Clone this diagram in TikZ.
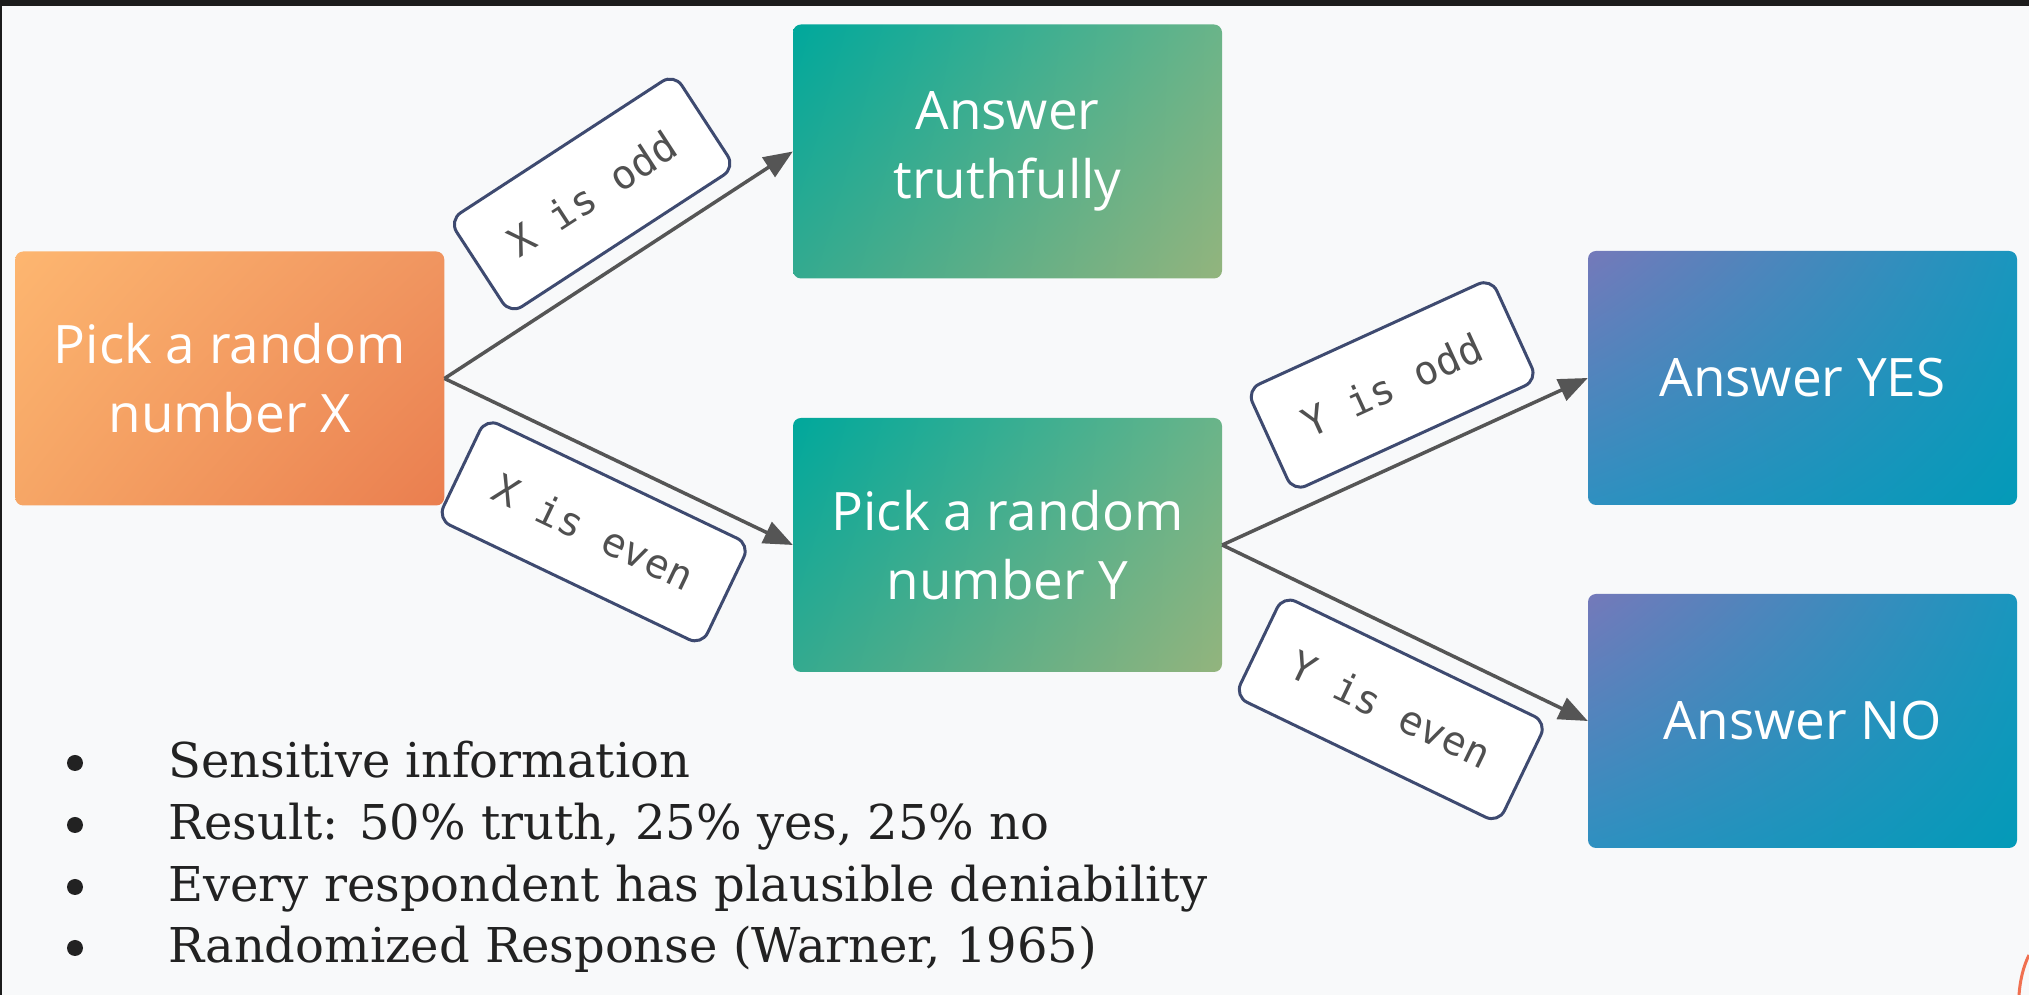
\documentclass[tikz,border=0pt]{standalone}
\usepackage{fontspec}
\setmainfont{DejaVu Serif}
\newfontfamily\boxfont{Open Sans}
\newfontfamily\lblfont{DejaVu Sans Mono}
\usetikzlibrary{arrows.meta,calc,shadings}

\definecolor{bg}{HTML}{F8F9FA}
\definecolor{framec}{HTML}{1C1C1C}
\definecolor{oUL}{HTML}{FDB670}
\definecolor{oUR}{HTML}{F09560}
\definecolor{oLL}{HTML}{F6A666}
\definecolor{oLR}{HTML}{EA7E4F}
\definecolor{gUL}{HTML}{00A89C}
\definecolor{gUR}{HTML}{6AB489}
\definecolor{gLL}{HTML}{34AA8F}
\definecolor{gLR}{HTML}{93B47D}
\definecolor{bUL}{HTML}{7479BA}
\definecolor{bUR}{HTML}{1A96BE}
\definecolor{bLL}{HTML}{2E90C0}
\definecolor{bLR}{HTML}{039AB8}
\definecolor{arrowc}{HTML}{555555}
\definecolor{lblborder}{HTML}{3E4A70}
\definecolor{lbltext}{HTML}{505050}
\definecolor{bullettext}{HTML}{222222}
\definecolor{cornerc}{HTML}{F07050}

\begin{document}
\begin{tikzpicture}[x=1pt,y=1pt,
  stepbox/.style={rounded corners=8pt, minimum width=429pt, minimum height=254pt,
    inner sep=0pt, align=center, text=white,
    font=\boxfont\fontsize{53}{69}\selectfont},
  orangebox/.style={stepbox, shade, shading=bilinear interpolation,
    upper left=oUL, upper right=oUR, lower left=oLL, lower right=oLR},
  greenbox/.style={stepbox, shade, shading=bilinear interpolation,
    upper left=gUL, upper right=gUR, lower left=gLL, lower right=gLR},
  bluebox/.style={stepbox, shade, shading=bilinear interpolation,
    upper left=bUL, upper right=bUR, lower left=bLL, lower right=bLR},
  lbl/.style={draw=lblborder, line width=3pt, fill=white, rounded corners=14pt,
    minimum height=112pt, inner xsep=38pt, text=lbltext,
    font=\lblfont\fontsize{40}{40}\selectfont},
  conn/.style={draw=arrowc, line width=3.5pt, -{Triangle[length=29pt,width=23pt]}},
  bullettxt/.style={anchor=base west, inner sep=0pt, text=bullettext,
    font=\fontsize{48}{58}\selectfont},
  dot/.style={circle, fill=bullettext, inner sep=0pt, minimum size=16pt},
]
\useasboundingbox (0,0) rectangle (2029,995);
\fill[bg] (0,0) rectangle (2029,995);
\fill[framec] (0,989) rectangle (2029,995);
\fill[framec] (0,0) rectangle (1.5,995);
\draw[cornerc, line width=3pt] (2029,40) .. controls (2023,28) and (2020,14) .. (2019,0);

% boxes
\node[orangebox] (X) at (229.75,616.5) {Pick a random\\number X};
\node[greenbox] (T) at (1007.5,843.5) {Answer\\truthfully};
\node[greenbox] (Y) at (1007.5,450) {Pick a random\\number Y};
\node[bluebox] (YES) at (1802.5,617) {Answer YES};
\node[bluebox] (NO) at (1802.5,274) {Answer NO};

% connectors
\draw[conn] (X.east) -- (T.west);
\draw[conn] (X.east) -- (Y.west);
\draw[conn] (Y.east) -- (YES.west);
\draw[conn] (Y.east) -- (NO.west);

% labels
\path ($(X.east)!74pt!90:(T.west)$) -- ($(T.west)!74pt!-90:(X.east)$)
  node[lbl, pos=0.54, sloped] (l1) {X is odd};
\path ($(X.east)!74pt!-90:(Y.west)$) -- ($(Y.west)!74pt!90:(X.east)$)
  node[lbl, pos=0.52, sloped] (l2) {X is even};
\path ($(Y.east)!75pt!90:(YES.west)$) -- ($(YES.west)!75pt!-90:(Y.east)$)
  node[lbl, pos=0.55, sloped] (l3) {Y is odd};
\path ($(Y.east)!75pt!-90:(NO.west)$) -- ($(NO.west)!75pt!90:(Y.east)$)
  node[lbl, pos=0.55, sloped] (l4) {Y is even};

% bullets
\node[dot] (d1) at (75,232) {};
\node[dot] (d2) at (75,170) {};
\node[dot] (d3) at (75,108) {};
\node[dot] (d4) at (75,47) {};
\node[bullettxt] (b1) at (168,217) {Sensitive information};
\node[bullettxt] (b2) at (168,155) {Result: 50\% truth, 25\% yes, 25\% no};
\node[bullettxt] (b3) at (168,93) {Every respondent has plausible deniability};
\node[bullettxt] (b4) at (168,32) {Randomized Response (Warner, 1965)};
\end{tikzpicture}
\end{document}
